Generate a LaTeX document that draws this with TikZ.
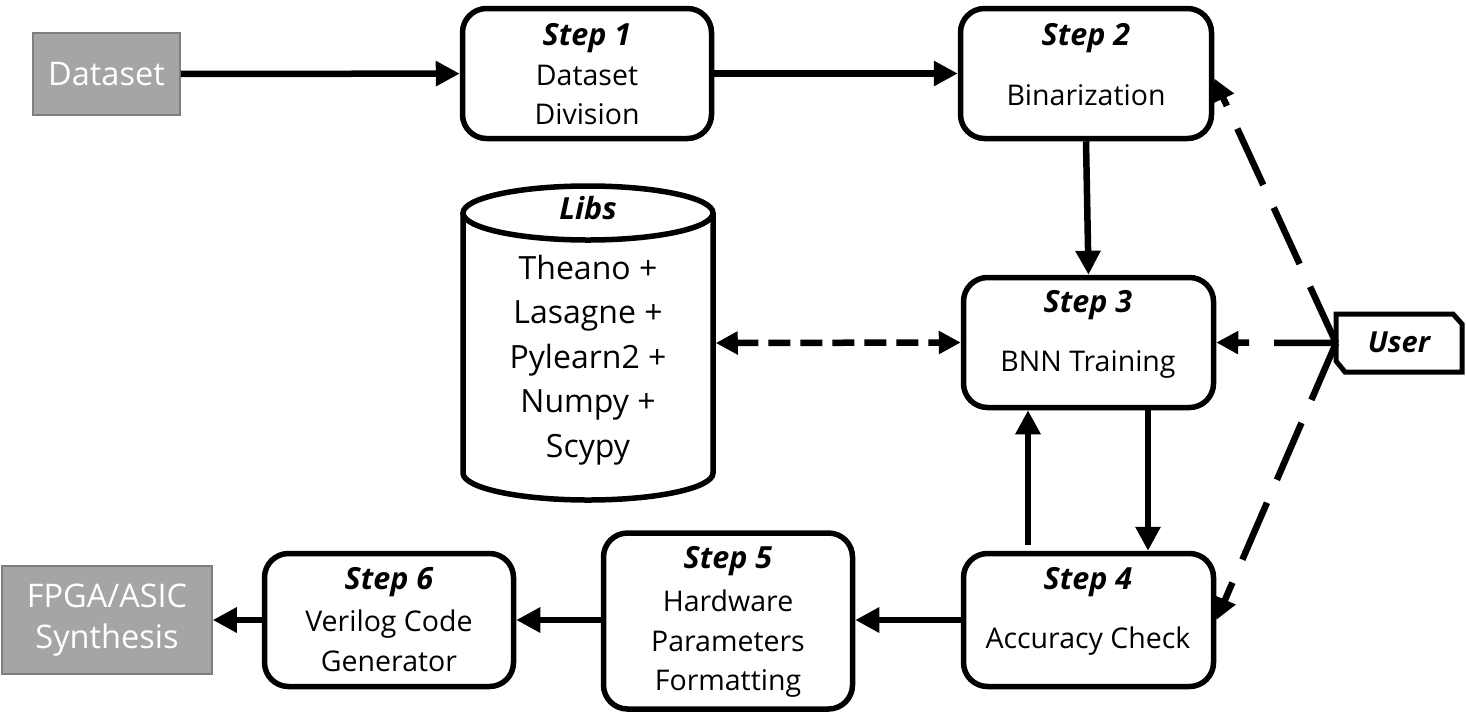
\documentclass[tikz,border=0pt]{standalone}
\usepackage{fontspec}
\setmainfont{Open Sans}
\usetikzlibrary{arrows.meta,calc}
\definecolor{boxgray}{HTML}{A5A5A5}
\definecolor{edgegray}{HTML}{7F7F7F}
\begin{document}
\begin{tikzpicture}[x=1pt,y=-1pt,
  stepbox/.style={draw=black, line width=5.5pt, rounded corners=24pt, inner sep=0pt, outer sep=2.75pt},
  graybox/.style={draw=edgegray, fill=boxgray, line width=1.5pt, inner sep=0pt, outer sep=0.75pt},
  ttl/.style={font=\fontsize{30.5}{36}\selectfont\bfseries\itshape, inner sep=0pt},
  body/.style={font=\fontsize{28.5}{39.5}\selectfont, align=center, inner sep=0pt},
  libtext/.style={font=\fontsize{32}{44.5}\selectfont, align=center, inner sep=0pt},
  graytext/.style={font=\fontsize{32.5}{41}\selectfont, align=center, inner sep=0pt, text=white},
  conn/.style={line width=6.5pt, -{Triangle[length=24pt,width=24pt]}},
  dconn/.style={line width=6.5pt, dash pattern=on 22pt off 10pt, {Triangle[length=22pt,width=22pt]}-{Triangle[length=22pt,width=22pt]}},
  uconn/.style={line width=6.5pt, dash pattern=on 62pt off 25pt, -{Triangle[length=22pt,width=22pt]}},
  outline/.style={line width=5.5pt}
]
\useasboundingbox (0,0) rectangle (1466,721);

% gray terminal boxes
\node[graybox, minimum width=147pt, minimum height=82pt] (ds) at (106.5,74) {};
\node[graytext] (dst) at (106.5,74) {Dataset};
\node[graybox, minimum width=210pt, minimum height=108pt] (fp) at (107,620) {};
\node[graytext] (fpt) at (107,620) {FPGA/ASIC\\Synthesis};

% step boxes
\node[stepbox, minimum width=249pt, minimum height=130pt] (s1) at (587,73.5) {};
\node[stepbox, minimum width=251pt, minimum height=130pt] (s2) at (1086,73.5) {};
\node[stepbox, minimum width=250pt, minimum height=130pt] (s3) at (1088.5,342.5) {};
\node[stepbox, minimum width=250pt, minimum height=133pt] (s4) at (1088.5,620) {};
\node[stepbox, minimum width=249pt, minimum height=176pt] (s5) at (728,621) {};
\node[stepbox, minimum width=249pt, minimum height=133pt] (s6) at (389,620) {};

\node[ttl] (t1) at (587,38) {Step 1};
\node[body] (b1) at (587,95) {Dataset\\Division};
\node[ttl] (t2) at (1086,38) {Step 2};
\node[body] (b2) at (1086,95) {Binarization};
\node[ttl] (t3) at (1088,305) {Step 3};
\node[body] (b3) at (1088,364) {BNN Training};
\node[ttl] (t4) at (1088,582) {Step 4};
\node[body] (b4) at (1088,641) {Accuracy Check};
\node[ttl] (t5) at (728,561) {Step 5};
\node[body] (b5) at (728,644) {Hardware\\Parameters\\Formatting};
\node[ttl] (t6) at (389,582) {Step 6};
\node[body] (b6) at (389,641) {Verilog Code\\Generator};

% libs cylinder
\node[minimum width=250pt, minimum height=260pt, inner sep=0pt, outer sep=2.75pt] (libs) at (588,343) {};
\draw[outline] (463,213) -- (463,473) arc[start angle=180, end angle=360, x radius=125pt, y radius=27pt] -- (713,213);
\draw[outline] (588,213) ellipse [x radius=125pt, y radius=27pt];
\node[ttl] (lt) at (588,208) {Libs};
\node[libtext] (lb) at (588,360) {Theano +\\Lasagne +\\Pylearn2 +\\Numpy +\\Scypy};

% user tag
\node[minimum width=126pt, minimum height=58pt, inner sep=0pt, outer sep=0pt] (user) at (1399,343) {};
\draw[line width=5pt] (user.north west) -- ([xshift=-9pt]user.north east) -- ([yshift=-10pt]user.north east)
  -- (user.south east) -- ([xshift=9pt]user.south west) -- ([yshift=11pt]user.south west) -- cycle;
\node[font=\fontsize{29}{33}\selectfont\bfseries\itshape, inner sep=0pt] (ut) at (1399,342) {User};

% connectors
\draw[conn] (ds) -- (s1);
\draw[conn] (s1) -- (s2);
\draw[conn] (s2.south) -- (s3.north);
\draw[conn] ([xshift=59.5pt]s3.south) -- ([xshift=59.5pt]s4.north);
\draw[conn, shorten <=6pt] ([xshift=-60.5pt]s4.north) -- ([xshift=-60.5pt]s3.south);
\draw[conn] (s4) -- (s4 -| s5.east);
\draw[conn] (s5.west |- s6) -- (s6);
\draw[conn] (s6) -- (fp);
\draw[dconn] (libs.east) -- (s3.west);
\draw[uconn] (user.west) -- (s3.east);
\draw[uconn] (user.west) -- ([yshift=-5pt]s2.east);
\draw[uconn] (user.west) -- (s4.east);
\end{tikzpicture}
\end{document}
